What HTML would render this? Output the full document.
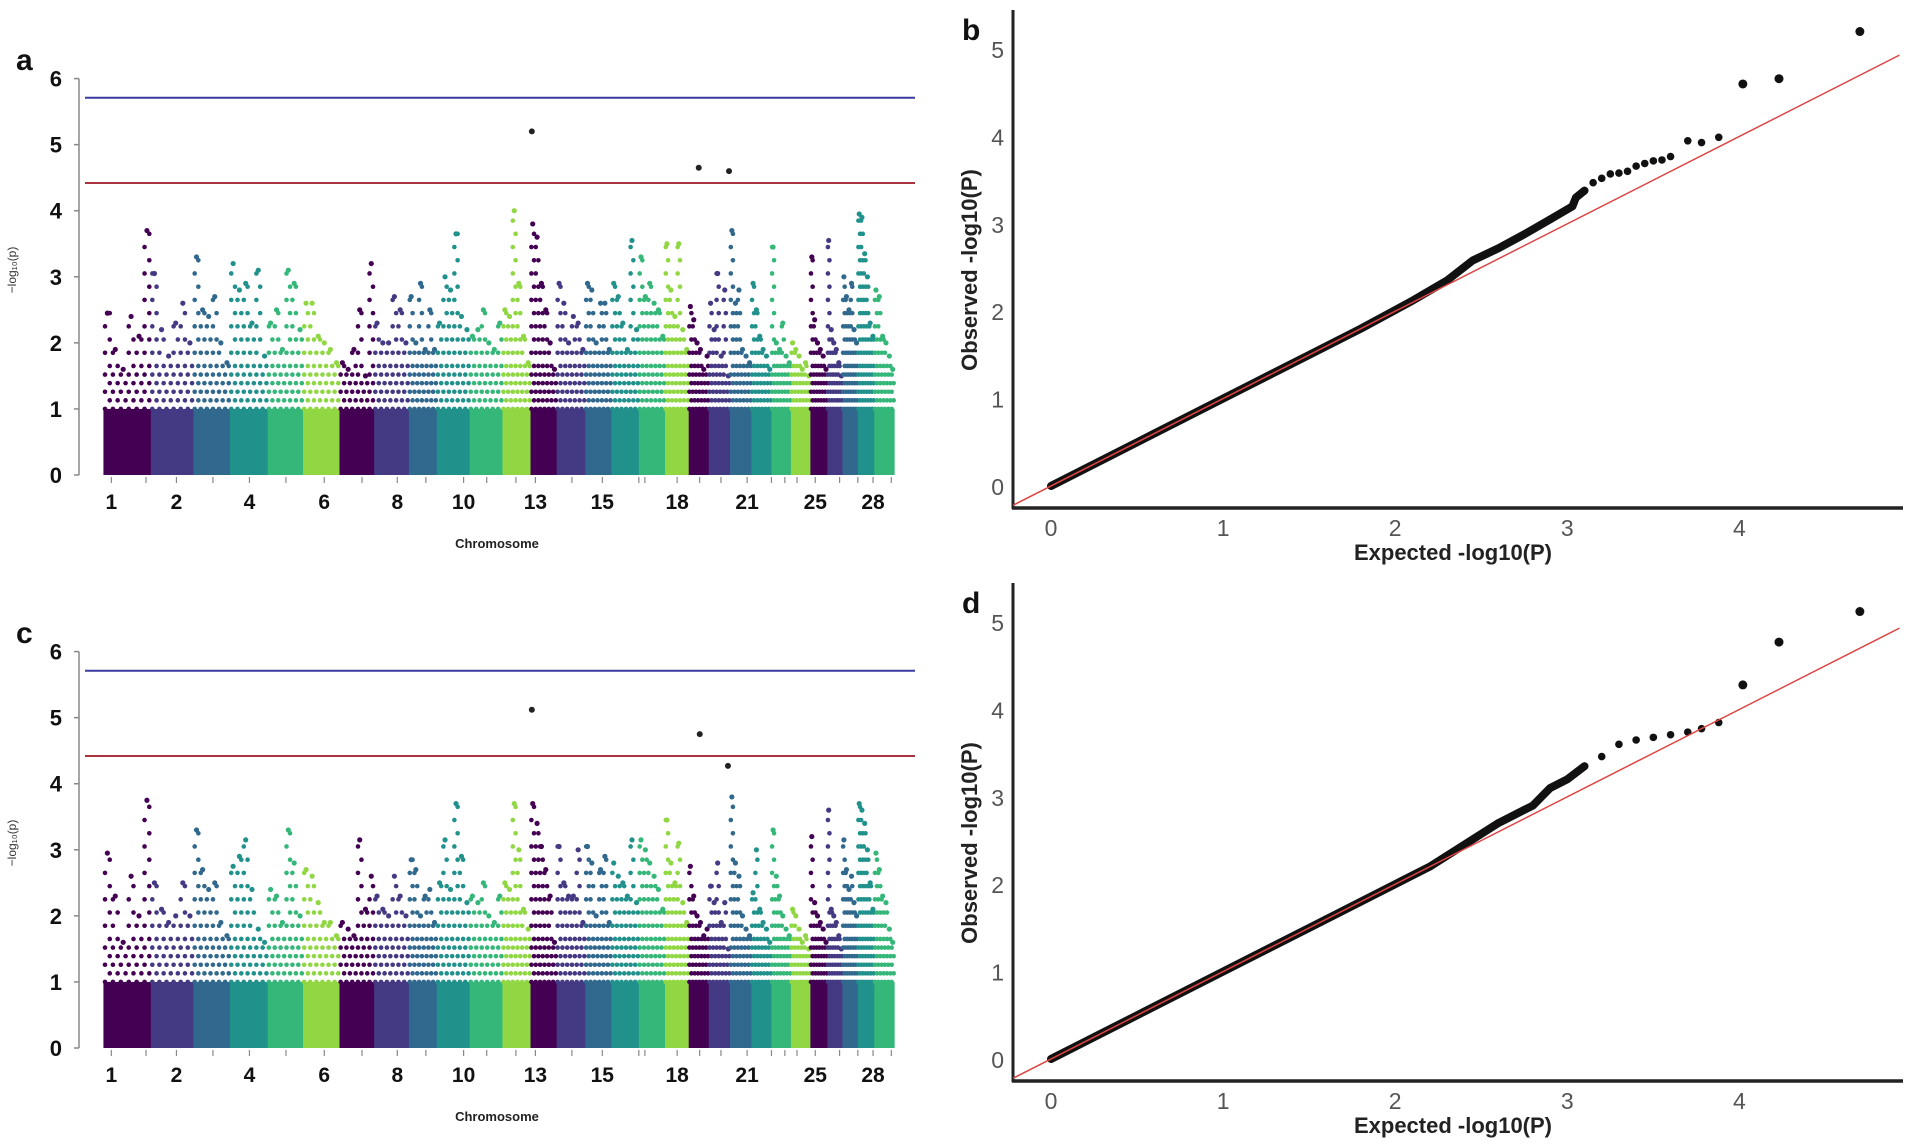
<!DOCTYPE html>
<html><head><meta charset="utf-8"><style>
html,body{margin:0;padding:0;background:#fff;}
svg{display:block;font-family:"Liberation Sans",sans-serif;}
</style></head><body>
<svg id="fig" width="1908" height="1146" viewBox="0 0 1908 1146" xmlns="http://www.w3.org/2000/svg"></svg>
<script>
// ---- Manhattan data ----
const chromWidths=[78,70,60,62,58,60,57,57,46,54,54,46,43,47,43,45,43,39,33,35,35,33,32,32,28,25,25,27,33];
const tickLabels=["1","2","4","6","8","10","13","15","18","21","25","28"];
const peaksA=[
[2.45,1.9,1.6,2.4,2.1,3.7],[3.05,2.2,1.8,2.3,2.6,2.0],[3.3,2.5,2.4,2.7,2.0,1.7],[3.2,2.8,2.9,2.3,3.1,1.8],
[2.3,2.5,1.9,3.1,2.9,2.2],[2.6,2.6,2.1,2.0,1.9,1.7],[1.7,1.6,1.9,2.5,1.5,3.2],[2.3,2.0,2.0,2.7,2.5,2.0],
[2.7,2.0,2.9,1.9,2.5,1.9],[2.3,3.0,2.8,3.65,2.4,2.2],[2.1,2.2,2.5,2.0,1.9,2.3],[2.5,2.4,4.0,2.9,2.1,1.7],
[3.8,3.6,2.9,2.5,2.0,1.6],[2.9,2.6,2.0,2.4,2.3,1.9],[2.9,2.8,2.0,2.6,2.6,1.9],[2.9,2.7,2.3,1.9,3.55,2.2],
[3.3,2.7,2.9,2.6,2.5,2.1],[3.5,2.8,2.4,3.5,2.2,1.9],[2.55,2.35,2.0,1.9,1.6,1.8],[2.6,2.2,3.05,1.8,2.8,1.5],
[3.7,2.6,2.8,1.9,1.8,1.7],[2.9,2.5,2.1,1.9,1.8,1.6],[3.45,2.0,1.9,2.3,1.8,1.7],[2.0,1.9,1.8,1.6,1.7,1.5],
[3.3,2.35,2.0,1.9,1.8,1.6],[3.55,2.2,2.0,1.9,1.7,1.5],[3.0,2.7,2.5,2.9,2.2,2.0],[3.95,3.9,3.35,3.0,2.3,2.1],
[2.8,2.7,2.1,2.0,1.8,1.6]];
const peaksC=[
[2.95,2.3,1.6,2.6,2.0,3.75],[2.5,2.1,1.9,2.0,2.5,2.0],[3.3,2.7,2.4,2.5,1.9,1.7],[2.75,2.9,3.15,2.4,1.8,1.6],
[2.4,2.3,1.9,3.3,2.8,2.0],[2.7,2.6,2.2,1.9,1.9,1.7],[1.9,1.8,1.7,3.15,2.1,2.6],[2.3,2.1,2.0,2.6,2.3,2.0],
[2.85,2.7,2.0,2.3,2.4,1.9],[2.5,3.15,2.4,3.7,2.9,2.2],[2.3,2.2,2.5,2.0,1.9,2.3],[2.5,2.4,3.7,3.0,2.1,1.8],
[3.7,3.4,3.05,2.7,2.3,1.6],[3.05,2.5,2.3,2.3,3.0,1.9],[3.05,2.8,2.0,2.7,2.9,1.9],[2.8,2.6,2.5,2.3,3.15,2.2],
[3.15,3.0,2.8,2.6,2.4,2.1],[3.45,2.8,2.5,3.1,2.2,1.9],[2.75,2.3,2.0,1.9,1.7,1.8],[2.45,2.2,2.8,1.9,2.2,1.5],
[3.8,2.8,2.6,2.0,1.8,1.7],[2.35,3.0,2.1,1.9,1.8,1.6],[3.3,2.6,2.3,2.0,1.8,1.7],[2.1,2.0,1.8,1.6,1.7,1.5],
[3.2,2.2,2.0,1.9,1.8,1.6],[3.6,2.1,2.0,1.9,1.7,1.5],[3.15,2.7,2.4,2.6,2.2,2.0],[3.7,3.6,3.4,3.0,2.5,2.1],
[2.95,2.7,2.3,2.2,1.8,1.6]];
const hitsA=[[13,0.05,5.2],[19,0.5,4.65],[20,0.95,4.6]];
const hitsC=[[13,0.05,5.12],[19,0.55,4.75],[20,0.9,4.27]];
const thresholds=[5.71,4.42];
const yTicksM=[0,1,2,3,4,5,6];
// ---- QQ data ----
const qqExpB=[0,0.5,1,1.5,1.8,2.1,2.3,2.45,2.6,2.75,2.9,3.03,3.05,3.1,3.15,3.2,3.25,3.3,3.35,3.4,3.45,3.5,3.55,3.6,3.7,3.78,3.88,4.02,4.23,4.7];
const qqObsB=[0,0.5,1,1.5,1.8,2.12,2.35,2.58,2.72,2.88,3.05,3.2,3.3,3.38,3.47,3.52,3.57,3.58,3.6,3.66,3.69,3.72,3.73,3.77,3.95,3.93,3.99,4.6,4.66,5.2];
const qqExpD=[0,0.5,1,1.5,2,2.2,2.4,2.6,2.8,2.85,2.9,3.0,3.1,3.2,3.3,3.4,3.5,3.6,3.7,3.78,3.88,4.02,4.23,4.7];
const qqObsD=[0,0.5,1,1.5,2,2.2,2.45,2.7,2.9,3.0,3.1,3.2,3.35,3.46,3.6,3.65,3.68,3.71,3.74,3.78,3.85,4.28,4.77,5.12];
const qqTicks=[0,1,2,3,4,5];

const NS="http://www.w3.org/2000/svg";
const svg=document.getElementById('fig');
function mk(tag,attrs,parent,text){const e=document.createElementNS(NS,tag);for(const k in attrs)e.setAttribute(k,attrs[k]);if(text!==undefined)e.textContent=text;(parent||svg).appendChild(e);return e;}
const palette=['#440154','#443983','#31688e','#21918c','#35b779','#90d743'];
const Z=0.6084;

function manhattan(oy,peaks,hits,letter,name){
  const g=mk('g',{});
  
  
  const y=v=>oy+475-v*66.07;
  const starts=[];let acc=170;chromWidths.forEach(w=>{starts.push(acc);acc+=w;});
  const cx=(c,f)=>(starts[c-1]+f*chromWidths[c-1])*Z;
  const sp=mk('line',{x1:79,y1:y(6),x2:79,y2:y(0),stroke:'#888','stroke-width':1.5},g);
  
  yTicksM.forEach(t=>{
    mk('line',{x1:74,x2:79,y1:y(t),y2:y(t),stroke:'#888','stroke-width':1.5},g);
    const tl=mk('text',{x:62,y:y(t)+8,'text-anchor':'end','font-size':22,'font-weight':'bold',fill:'#111'},g,String(t));
    
  });
  chromWidths.forEach((w,i)=>{
    const col=palette[i%6];
    const x0=starts[i]*Z, x1=(starts[i]+w)*Z;
    const r=mk('rect',{x:x0,y:y(1.0),width:x1-x0+0.3,height:y(0)-y(1.0),fill:col},g);
    
    const n=peaks[i].length, slot=(x1-x0)/n;
    peaks[i].forEach((h,j)=>{
      let k=0;
      for(let v=1.0;v<=h+0.001;v+=(v<1.6?0.13:0.2),k++){
        const xx=x0+slot*(j+0.5)+(k%2?0.3:-0.3)*slot;
        mk('circle',{cx:xx,cy:y(v),r:2.3,fill:col},g);
      }
      const d=mk('circle',{cx:x0+slot*(j+0.5),cy:y(h),r:2.6,fill:col},g);
      
    });
  });
  hits.forEach(hh=>{
    const d=mk('circle',{cx:cx(hh[0],hh[1]),cy:y(hh[2]),r:3,fill:'#222'},g);
    
  });
  const bl=mk('line',{x1:85,x2:915,y1:y(thresholds[0]),y2:y(thresholds[0]),stroke:'#3a3aa0','stroke-width':2},g);
  
  const rl=mk('line',{x1:85,x2:915,y1:y(thresholds[1]),y2:y(thresholds[1]),stroke:'#a8323e','stroke-width':2},g);
  
  const labPos=[183,290,410,533,653,762,880,990,1113,1228,1340,1435];
  const minor=[240,350,470,595,700,800,848,940,1050,1060,1150,1185,1268,1290,1310,1380,1410,1465];
  minor.concat(labPos).forEach(p=>mk('line',{x1:p*Z,x2:p*Z,y1:y(0)+2,y2:y(0)+8,stroke:'#888','stroke-width':1.2},g));
  labPos.forEach((p,i)=>{
    const t=mk('text',{x:p*Z,y:y(0)+34,'text-anchor':'middle','font-size':21,'font-weight':'bold',fill:'#111'},g,tickLabels[i]);
    
  });
  const xt=mk('text',{x:497,y:oy+548,'text-anchor':'middle','font-size':13,'font-weight':'bold',fill:'#222'},g,'Chromosome');
  
  const yt=mk('text',{x:0,y:0,'text-anchor':'middle','font-size':12,fill:'#333',transform:`translate(16,${oy+270}) rotate(-90)`},g,'−log₁₀(p)');
  
  const L=mk('text',{x:16,y:oy+70,'font-size':30,'font-weight':'bold',fill:'#111'},g,letter);
  
}

function qq(oy,ex,ob,letter,name){
  const g=mk('g',{});
  
  
  const x=v=>1051+v*172.1, y=v=>oy+486-v*87.4;
  const ya=mk('line',{x1:1013,x2:1013,y1:oy+10,y2:oy+509,stroke:'#222','stroke-width':3},g);
  
  const xa=mk('line',{x1:1012,x2:1903,y1:oy+508,y2:oy+508,stroke:'#222','stroke-width':3.5},g);
  
  qqTicks.forEach(t=>{
    const a=mk('text',{x:1004,y:y(t)+9,'text-anchor':'end','font-size':23,fill:'#555'},g,String(t));
    
    if(t<5){const b=mk('text',{x:x(t),y:oy+536,'text-anchor':'middle','font-size':23,fill:'#555'},g,String(t));
    }
  });
  let pts=[];
  ex.forEach((e,i)=>{if(e<=3.1)pts.push(x(e)+','+y(ob[i]));});
  const pl=mk('polyline',{points:pts.join(' '),fill:'none',stroke:'#111','stroke-width':8,'stroke-linecap':'round','stroke-linejoin':'round'},g);
  
  ex.forEach((e,i)=>{if(e>2.8){const c=mk('circle',{cx:x(e),cy:y(ob[i]),r:e>3.95?4.5:3.8,fill:'#111'},g);
    }});
  const rl=mk('line',{x1:x(-0.22),y1:y(-0.22),x2:x(4.93),y2:y(4.93),stroke:'#d44','stroke-width':1.5},g);
  
  const xt=mk('text',{x:1453,y:oy+560,'text-anchor':'middle','font-size':22,'font-weight':'bold',fill:'#222'},g,'Expected -log10(P)');
  
  const yt=mk('text',{x:0,y:0,'text-anchor':'middle','font-size':22,'font-weight':'bold',fill:'#222',transform:`translate(977,${oy+270}) rotate(-90)`},g,'Observed -log10(P)');
  
  const L=mk('text',{x:962,y:oy+40,'font-size':30,'font-weight':'bold',fill:'#111'},g,letter);
  
}
manhattan(0,peaksA,hitsA,'a','manhattan-plot-a');
qq(0,qqExpB,qqObsB,'b','qq-plot-b');
manhattan(573,peaksC,hitsC,'c','manhattan-plot-c');
qq(573,qqExpD,qqObsD,'d','qq-plot-d');
</script>
</body></html>
